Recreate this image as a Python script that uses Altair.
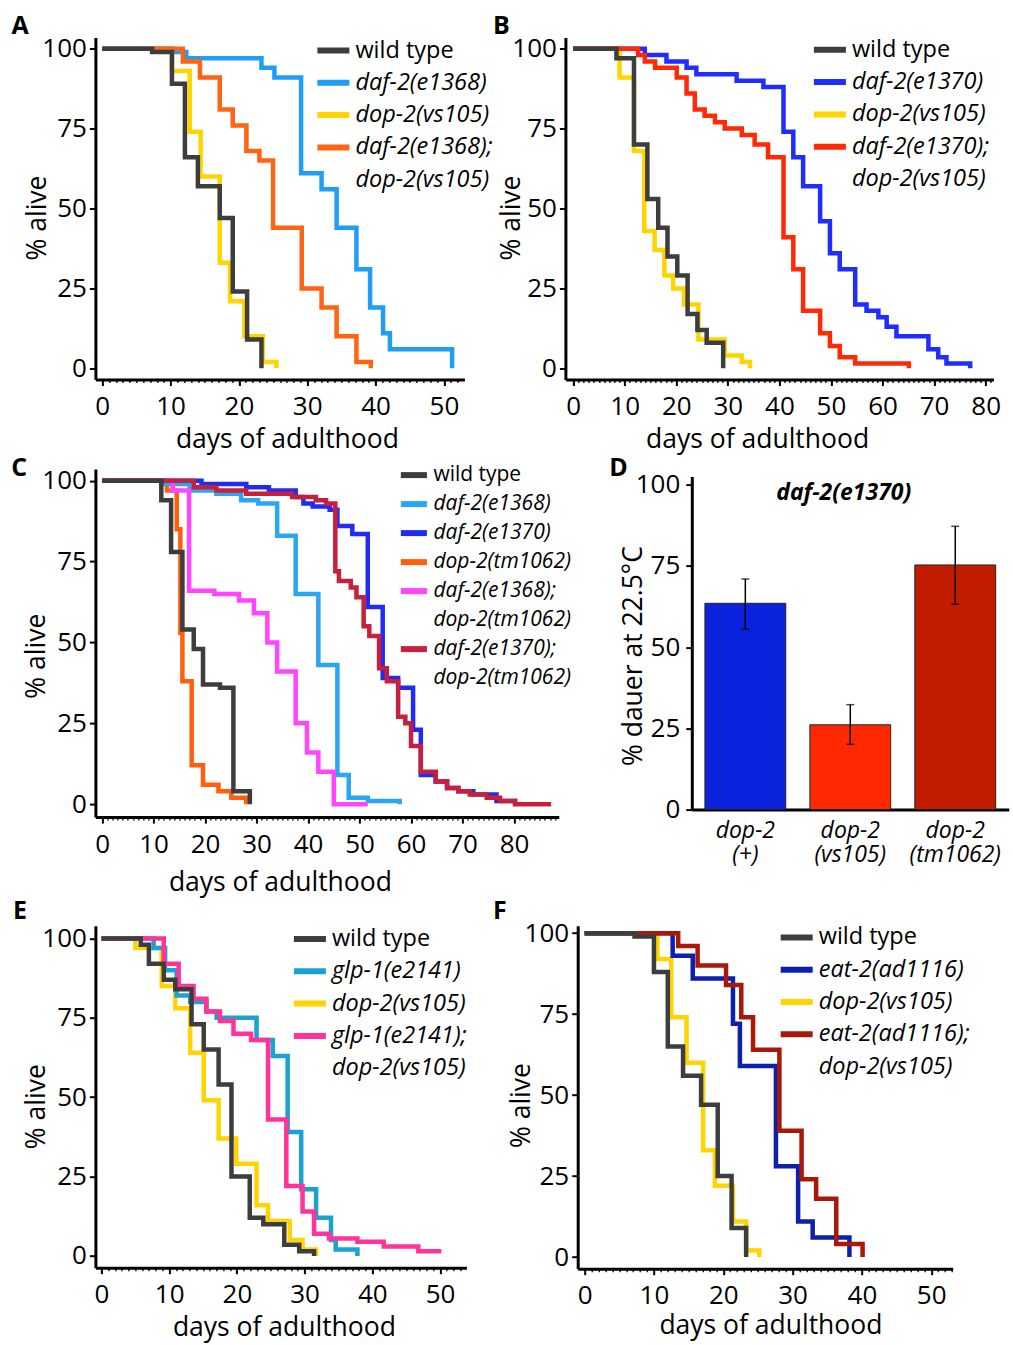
import altair as alt
import pandas as pd

FONT = "Open Sans"
GRAY = "#3d3d3d"
YELLOW = "#ffd400"
CLEAR = "rgba(255,255,255,0)"

# ---------------- Panel A ----------------
A_LEGEND = ["wild type", "daf-2(e1368)", "dop-2(vs105)", "daf-2(e1368);", "dop-2(vs105) "]
A_COLORS = [GRAY, "#1e9ef8", YELLOW, "#ff6412", CLEAR]
A_DRAW = ["dop-2(vs105)", "daf-2(e1368)", "daf-2(e1368);", "wild type"]
A_WT_DAY = [0, 7.3, 10.2, 12.1, 14.0, 17.2, 19.1, 21.2, 23.3]
A_WT_ALIVE = [100, 99, 89, 66, 57, 47, 24, 9, 0]
A_DOP_DAY = [0, 10.2, 12.8, 14.4, 17.2, 18.7, 20.8, 23.5, 25.5]
A_DOP_ALIVE = [100, 93, 74, 60, 33, 21, 10, 2, 0]
A_DAF_DAY = [0, 10.3, 12.3, 23.3, 25.2, 29.1, 32.1, 34.3, 37.2, 39.2, 41.1, 42.1, 51.2]
A_DAF_ALIVE = [100, 99, 97, 94, 91, 61, 56, 44, 31, 19, 11, 6, 0]
A_DBL_DAY = [0, 11.8, 14.3, 17.2, 19.1, 21.1, 23.0, 25.0, 29.2, 32.1, 34.3, 37.2, 39.3]
A_DBL_ALIVE = [100, 96, 91, 81, 76, 68, 65, 44, 25, 19, 10, 2, 0]

# ---------------- Panel B ----------------
B_LEGEND = ["wild type", "daf-2(e1370)", "dop-2(vs105)", "daf-2(e1370);", "dop-2(vs105) "]
B_COLORS = [GRAY, "#1f2dff", YELLOW, "#ff2a05", CLEAR]
B_DRAW = ["dop-2(vs105)", "daf-2(e1370)", "daf-2(e1370);", "wild type"]
B_WT_DAY = [0, 8.4, 11.8, 14.4, 16.5, 18.3, 20.2, 22.2, 24.1, 25.9, 29.1]
B_WT_ALIVE = [100, 97, 70, 53, 44, 35, 29, 17, 12, 8, 0]
B_DOP_DAY = [0, 9.0, 11.8, 13.8, 15.8, 17.7, 19.4, 21.5, 24.3, 29.4, 32.7, 34.3]
B_DOP_ALIVE = [100, 91, 68, 43, 37, 29, 25, 20, 9, 4, 2, 0]
B_DAF_DAY = [0, 13.9, 18.1, 22.0, 23.9, 31.7, 36.9, 40.8, 42.7, 44.6, 47.9, 49.8,
             51.7, 54.7, 56.9, 59.2, 60.8, 62.7, 68.9, 70.8, 72.4, 77.0]
B_DAF_ALIVE = [100, 98, 96, 94, 92, 90, 88, 74, 66, 57, 46, 36,
               31, 20, 18, 16, 13, 10, 6, 3.5, 1.5, 0]
B_DBL_DAY = [0, 12.6, 13.9, 15.9, 20.1, 22.0, 23.6, 25.5, 27.5, 29.4, 32.7, 35.2,
             37.8, 40.8, 42.7, 44.6, 47.9, 49.8, 51.7, 54.7, 65.1]
B_DBL_ALIVE = [100, 98, 96, 94, 91, 86, 81, 79, 77, 75, 73, 70,
               66, 41, 31, 18, 11, 7, 3.5, 1.5, 0]

# ---------------- Panel C ----------------
C_LEGEND = ["wild type", "daf-2(e1368)", "daf-2(e1370)", "dop-2(tm1062)",
            "daf-2(e1368);", "dop-2(tm1062) ", "daf-2(e1370);", "dop-2(tm1062)  "]
C_COLORS = [GRAY, "#2ba6f2", "#1e2cf5", "#ff6010", "#ff45ff", CLEAR, "#c8203c", CLEAR]
C_DRAW = ["dop-2(tm1062)", "daf-2(e1368)", "daf-2(e1370)", "daf-2(e1368);", "daf-2(e1370);", "wild type"]
C_WT_DAY = [0, 11.5, 13.4, 15.6, 17.8, 19.6, 22.9, 25.5, 28.7]
C_WT_ALIVE = [100, 94, 78, 54, 48, 37, 36, 4, 0]
C_DOP_DAY = [0, 12.6, 14.5, 15.2, 15.6, 17.4, 19.6, 22.6, 25.1, 28.0]
C_DOP_ALIVE = [100, 97, 85, 53, 38, 12, 6, 4, 2, 0]
C_D68_DAY = [0, 12.0, 17.0, 22.2, 27.0, 30.3, 34.0, 37.6, 42.0, 45.7, 47.9, 51.6, 57.8]
C_D68_ALIVE = [100, 99, 97, 96, 94, 93, 83, 65, 43, 9, 2, 1, 0]
C_D70_DAY = [0, 19.3, 28.0, 32.4, 37.6, 39.1, 40.9, 44.2, 45.7, 48.6, 51.6, 54.5,
             57.5, 60.4, 61.9, 64.8, 67.0, 69.2, 72.1, 76.6, 80.2]
C_D70_ALIVE = [100, 99, 98, 97, 95, 93, 92, 91, 86, 83.5, 61, 39,
               36, 23, 9, 7, 5, 4, 3, 1, 0]
C_D68DOP_DAY = [0, 13.7, 16.9, 21.8, 26.6, 29.5, 32.1, 34.0, 37.6, 39.8, 42.0, 45.0, 51.6]
C_D68DOP_ALIVE = [100, 97, 66, 65, 63, 59, 50, 41, 25, 16, 10, 0, 0]
C_D70DOP_DAY = [0, 17.8, 22.2, 28.0, 36.9, 41.5, 43.5, 45.3, 46.0, 48.3, 49.4, 50.8, 51.9,
                53.8, 55.3, 57.5, 58.9, 60.0, 61.9, 64.8, 67.0, 69.2, 71.4, 74.7, 77.3, 80.2, 87.2]
C_D70DOP_ALIVE = [100, 98, 97, 96, 95, 94, 93, 72, 69, 67, 64, 55, 52,
                  42, 38, 27, 25, 18, 10, 7, 5, 4, 3, 2, 1, 0, 0]

# ---------------- Panel D ----------------
D_GENOTYPES = ["dop-2|(+)", "dop-2|(vs105)", "dop-2|(tm1062)"]
D_DAUER = [63.5, 26.1, 75.3]
D_ERR_LOW = [55.5, 20.1, 63.2]
D_ERR_HIGH = [71.0, 32.3, 87.2]
D_COLORS = ["#0b22dd", "#ff2800", "#c21c00"]
D_LABEL = ["daf-2(e1370)"]

# ---------------- Panel E ----------------
E_LEGEND = ["wild type", "glp-1(e2141)", "dop-2(vs105)", "glp-1(e2141);", "dop-2(vs105) "]
E_COLORS = [GRAY, "#1ba2d2", YELLOW, "#ff3399", CLEAR]
E_DRAW = ["dop-2(vs105)", "glp-1(e2141)", "glp-1(e2141);", "wild type"]
E_WT_DAY = [0, 5.8, 7.0, 9.2, 10.9, 13.3, 15.1, 17.3, 19.2, 21.9, 23.9, 27.0, 29.2, 31.4]
E_WT_ALIVE = [100, 98, 92, 87, 84, 73, 65, 54, 25, 12, 10, 3.5, 1.5, 0]
E_DOP_DAY = [0, 5.0, 8.9, 10.9, 13.1, 15.1, 17.3, 19.9, 22.9, 24.6, 27.8, 29.7, 31.7]
E_DOP_ALIVE = [100, 97, 85, 78, 64, 49, 37, 29, 16, 11, 5, 2, 0]
E_GLP_DAY = [0, 7.7, 9.4, 11.1, 13.1, 15.5, 17.0, 22.9, 25.3, 27.5, 29.5, 31.7, 33.9, 34.6, 37.8]
E_GLP_ALIVE = [100, 97, 90, 82, 80, 77, 75, 68, 63, 39, 21, 12, 5, 2, 0]
E_DBL_DAY = [0, 9.2, 11.4, 13.6, 15.5, 17.5, 19.5, 22.1, 24.6, 27.3, 29.7, 31.4, 33.6,
             37.8, 41.7, 46.8, 50.2]
E_DBL_ALIVE = [100, 92, 85, 81, 77, 74, 70, 68, 43, 22, 14, 7, 5.5,
               4.5, 3, 1.5, 1.5]

# ---------------- Panel F ----------------
F_LEGEND = ["wild type", "eat-2(ad1116)", "dop-2(vs105)", "eat-2(ad1116);", "dop-2(vs105) "]
F_COLORS = [GRAY, "#0b1fb0", YELLOW, "#a8190a", CLEAR]
F_DRAW = ["dop-2(vs105)", "eat-2(ad1116)", "eat-2(ad1116);", "wild type"]
F_WT_DAY = [0, 7.2, 10.0, 12.0, 14.2, 16.8, 19.2, 21.2, 23.3]
F_WT_ALIVE = [100, 99, 88, 65, 56, 47, 25, 9, 0]
F_DOP_DAY = [0, 10.5, 12.5, 14.7, 17.1, 18.8, 21.4, 23.3, 25.2]
F_DOP_ALIVE = [100, 92, 74, 60, 33, 22, 11, 2, 0]
F_EAT_DAY = [0, 12.7, 15.6, 21.4, 22.4, 27.6, 30.8, 32.9, 38.2]
F_EAT_ALIVE = [100, 93, 86, 72, 59, 28, 11, 6, 0]
F_DBL_DAY = [0, 13.5, 16.3, 20.4, 22.6, 24.3, 28.1, 31.3, 33.4, 36.3, 40.1]
F_DBL_ALIVE = [100, 96, 90, 84, 74, 64, 39, 24, 18, 4, 0]

PANEL_LETTERS = ["A", "B", "C", "D", "E", "F"]
Y_TICKS = [0, 25, 50, 75, 100]
ITALIC_EXPR = "datum.value == 'wild type' ? 'normal' : 'italic'"


def letter_layer(letter, dx, dy):
    return alt.Chart(pd.DataFrame({"t": [letter]})).mark_text(
        font=FONT, fontSize=25, fontWeight="bold", color="black",
        align="left", baseline="alphabetic").encode(
        text="t:N", x=alt.value(dx), y=alt.value(dy))


def survival_panel(letter, series, legend_domain, legend_colors, draw_order,
                   x_domain, x_tick_max, y_domain, width, height,
                   legend_x, legend_y, row_padding, symbol_size, legend_font,
                   letter_xy, ytitle_xy, xtitle_xy):
    frames = {name: pd.DataFrame({"series": name, "day": d, "alive": a})
              for name, d, a in series}
    legend = alt.Legend(
        orient="none", legendX=legend_x, legendY=legend_y, title=None,
        direction="vertical", symbolType="stroke", symbolStrokeWidth=6,
        symbolSize=symbol_size, symbolOpacity=1, labelFont=FONT, labelFontSize=legend_font,
        labelColor="black", labelFontStyle=alt.ExprRef(ITALIC_EXPR),
        labelOffset=3, labelLimit=400, rowPadding=row_padding, padding=0,
    )
    color = alt.Color("series:N", scale=alt.Scale(domain=legend_domain, range=legend_colors),
                      legend=legend)
    x = alt.X("day:Q", scale=alt.Scale(domain=x_domain, nice=False, zero=False),
              axis=alt.Axis(
                  values=list(range(0, x_tick_max + 1)),
                  labelExpr="datum.value % 10 == 0 ? datum.label : ''",
                  labelOverlap=False, labelFlush=False,
                  tickSize={"condition": {"test": "datum.value % 10 == 0", "value": 6}, "value": 3},
                  tickWidth={"condition": {"test": "datum.value % 10 == 0", "value": 2}, "value": 1.3},
                  labelPadding=8, labelFontSize=26,
                  title="days of adulthood", titleFontSize=26.5, titleFontWeight="normal",
                  titleX=xtitle_xy[0], titleY=xtitle_xy[1], titleBaseline="alphabetic",
                  titleAlign="center"))
    y = alt.Y("alive:Q", scale=alt.Scale(domain=y_domain, nice=False, zero=False),
              axis=alt.Axis(values=Y_TICKS, tickSize=6, tickWidth=2, labelPadding=3,
                            labelFontSize=26, title="% alive", titleFontSize=26.5,
                            titleFontWeight="normal", titleAngle=270,
                            titleX=ytitle_xy[0], titleY=ytitle_xy[1],
                            titleBaseline="middle", titleAlign="center"))
    layers = [
        alt.Chart(frames[name]).mark_line(interpolate="step-after", strokeWidth=4.5,
                                          strokeJoin="miter", strokeCap="butt")
        .encode(x=x, y=y, color=color)
        for name in draw_order
    ]
    layers.append(letter_layer(letter, letter_xy[0], letter_xy[1]))
    return alt.layer(*layers).properties(width=width, height=height)


panel_a = survival_panel(
    PANEL_LETTERS[0],
    [("wild type", A_WT_DAY, A_WT_ALIVE), ("daf-2(e1368)", A_DAF_DAY, A_DAF_ALIVE),
     ("dop-2(vs105)", A_DOP_DAY, A_DOP_ALIVE), ("daf-2(e1368);", A_DBL_DAY, A_DBL_ALIVE)],
    A_LEGEND, A_COLORS, A_DRAW, [-1, 53], 52, [-3.5, 103.5], 369, 342,
    219, -6, 1.3, 1024, 23.5, (-84, -3.5), (-57.5, 180), (191.5, 68))

panel_b = survival_panel(
    PANEL_LETTERS[1],
    [("wild type", B_WT_DAY, B_WT_ALIVE), ("daf-2(e1370)", B_DAF_DAY, B_DAF_ALIVE),
     ("dop-2(vs105)", B_DOP_DAY, B_DOP_ALIVE), ("daf-2(e1370);", B_DBL_DAY, B_DBL_ALIVE)],
    B_LEGEND, B_COLORS, B_DRAW, [-1.5, 81.5], 81, [-3.5, 103.5], 428, 342,
    245.5, -6.7, 1.3, 1024, 23.5, (-72.5, -4), (-54.3, 180), (191.7, 68))

panel_c = survival_panel(
    PANEL_LETTERS[2],
    [("wild type", C_WT_DAY, C_WT_ALIVE), ("daf-2(e1368)", C_D68_DAY, C_D68_ALIVE),
     ("daf-2(e1370)", C_D70_DAY, C_D70_ALIVE), ("dop-2(tm1062)", C_DOP_DAY, C_DOP_ALIVE),
     ("daf-2(e1368);", C_D68DOP_DAY, C_D68DOP_ALIVE),
     ("daf-2(e1370);", C_D70DOP_DAY, C_D70DOP_ALIVE)],
    C_LEGEND, C_COLORS, C_DRAW, [-1.3, 88.7], 88, [-4, 103.6], 463.4, 348,
    302, -10.5, 0, 680, 21, (-84.1, 6.6), (-59.2, 186.6), (184.5, 73.6))

panel_e = survival_panel(
    PANEL_LETTERS[4],
    [("wild type", E_WT_DAY, E_WT_ALIVE), ("glp-1(e2141)", E_GLP_DAY, E_GLP_ALIVE),
     ("dop-2(vs105)", E_DOP_DAY, E_DOP_ALIVE), ("glp-1(e2141);", E_DBL_DAY, E_DBL_ALIVE)],
    E_LEGEND, E_COLORS, E_DRAW, [-0.9, 53.9], 53, [-3.7, 104], 371, 342,
    195.5, -5.7, 1.3, 1024, 23.5, (-82.5, -6.7), (-59.2, 180.5), (188.5, 67.5))

panel_f = survival_panel(
    PANEL_LETTERS[5],
    [("wild type", F_WT_DAY, F_WT_ALIVE), ("eat-2(ad1116)", F_EAT_DAY, F_EAT_ALIVE),
     ("dop-2(vs105)", F_DOP_DAY, F_DOP_ALIVE), ("eat-2(ad1116);", F_DBL_DAY, F_DBL_ALIVE)],
    F_LEGEND, F_COLORS, F_DRAW, [-1, 53.1], 53, [-3.6, 102.3], 375, 343,
    200, -7.3, 1.3, 1024, 23.5, (-84.8, -7), (-55.8, 179.4), (192.7, 64.7))

# ---------------- Panel D chart ----------------
d_df = pd.DataFrame({"genotype": D_GENOTYPES, "dauer": D_DAUER,
                     "lo": D_ERR_LOW, "hi": D_ERR_HIGH})
d_x = alt.X("genotype:N", sort=D_GENOTYPES,
            scale=alt.Scale(paddingInner=0.23, paddingOuter=0.125),
            axis=alt.Axis(title=None, labelExpr="split(datum.label, '|')", labelAngle=0,
                          labelFontStyle="italic", labelFontSize=23, labelLineHeight=24,
                          ticks=False, labelPadding=10))
d_y_scale = alt.Scale(domain=[0, 102.5], nice=False, zero=True)
d_y = alt.Y("dauer:Q", scale=d_y_scale,
            axis=alt.Axis(values=Y_TICKS, tickSize=6, tickWidth=2, labelPadding=6,
                          labelFontSize=26, title="% dauer at 22.5°C", titleFontSize=26.5,
                          titleFontWeight="normal", titleAngle=270, titleX=-58, titleY=179,
                          titleBaseline="middle", titleAlign="center"))
bars = alt.Chart(d_df).mark_bar(stroke="#222222", strokeWidth=1).encode(
    x=d_x, y=d_y,
    color=alt.Color("genotype:N", scale=alt.Scale(domain=D_GENOTYPES, range=D_COLORS), legend=None))
err = alt.Chart(d_df).mark_rule(color="black", strokeWidth=1.5).encode(
    x=d_x, y=alt.Y("lo:Q", scale=d_y_scale), y2="hi:Q")
cap_lo = alt.Chart(d_df).mark_tick(color="black", thickness=1.5, size=8).encode(
    x=d_x, y=alt.Y("lo:Q", scale=d_y_scale))
cap_hi = alt.Chart(d_df).mark_tick(color="black", thickness=1.5, size=8).encode(
    x=d_x, y=alt.Y("hi:Q", scale=d_y_scale))
d_text = alt.Chart(pd.DataFrame({"t": D_LABEL})).mark_text(
    font=FONT, fontSize=23, fontStyle="italic", fontWeight="bold", color="black",
    baseline="middle", align="center").encode(
    text="t:N", x=alt.value(152), y=alt.value(16))
panel_d = alt.layer(bars, err, cap_lo, cap_hi, d_text,
                    letter_layer(PANEL_LETTERS[3], -82.6, -1)).properties(width=317, height=333)

row1 = alt.hconcat(panel_a, panel_b, spacing=101, bounds="flush").resolve_scale(
    color="independent").resolve_legend(color="independent")
row2 = alt.hconcat(panel_c, panel_d, spacing=132.4, bounds="flush", center=True).resolve_scale(
    color="independent").resolve_legend(color="independent")
row3 = alt.hconcat(panel_e, panel_f, spacing=111.3, bounds="flush").resolve_scale(
    color="independent").resolve_legend(color="independent")

chart = alt.vconcat(row1, row2, row3, spacing=1.6).resolve_scale(
    color="independent").resolve_legend(color="independent").properties(
    padding={"left": 10.4, "top": 13.5, "right": 2, "bottom": 2}
).configure(background="white").configure_view(
    stroke="transparent", strokeWidth=0
).configure_axis(
    labelFont=FONT, titleFont=FONT, labelColor="black", titleColor="black",
    domainColor="black", domainWidth=3, tickColor="black", grid=False
)

chart.save("out.html", embed_options={"renderer": "svg", "actions": False})
